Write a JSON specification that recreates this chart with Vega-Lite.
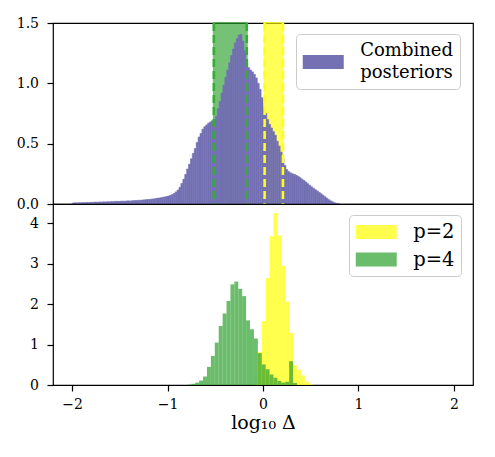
{
  "$schema": "https://vega.github.io/schema/vega-lite/v6.json",
  "padding": {"left": 15, "top": 15, "right": 5, "bottom": 5},
  "spacing": 0,
  "bounds": "flush",
  "config": {
    "font": "DejaVu Serif",
    "view": {"stroke": "black", "strokeWidth": 1.2},
    "axis": {
      "labelFont": "DejaVu Serif", "labelFontSize": 14, "labelColor": "black", "labelLineHeight": 15,
      "tickColor": "black", "tickWidth": 1.2, "tickSize": 6, "labelPadding": 8.5,
      "domain": false, "grid": false,
      "titleFont": "DejaVu Serif", "titleFontSize": 19, "titleColor": "black", "titleFontWeight": "normal"
    },
    "legend": {
      "orient": "none", "title": null,
      "labelFont": "DejaVu Serif", "labelFontSize": 18, "labelColor": "black", "labelLimit": 400,
      "labelOffset": 26.5,
      "symbolType": "M-2,-0.68H2V0.68H-2Z", "symbolSize": 420, "symbolOffset": 10.25, "symbolStrokeWidth": 0,
      "strokeColor": "#cccccc", "cornerRadius": 4, "fillColor": "white", "padding": 6.5, "rowPadding": 8.5
    },
    "style": {"guide-label": {"lineHeight": 22}}
  },
  "resolve": {"scale": {"color": "independent"}, "legend": {"color": "independent"}},
  "datasets": {
    "intervals": [
      {"series": "p=4", "lo": -0.515, "hi": -0.170},
      {"series": "p=2", "lo": 0.017, "hi": 0.209}
    ],
    "combined": [
      {"a": -2.00, "b": -1.98, "v": 0.008}, {"a": -1.98, "b": -1.96, "v": 0.010}, {"a": -1.96, "b": -1.94, "v": 0.009},
      {"a": -1.94, "b": -1.92, "v": 0.011}, {"a": -1.92, "b": -1.90, "v": 0.010}, {"a": -1.90, "b": -1.88, "v": 0.012},
      {"a": -1.88, "b": -1.86, "v": 0.011}, {"a": -1.86, "b": -1.84, "v": 0.013}, {"a": -1.84, "b": -1.82, "v": 0.012},
      {"a": -1.82, "b": -1.80, "v": 0.014}, {"a": -1.80, "b": -1.78, "v": 0.013}, {"a": -1.78, "b": -1.76, "v": 0.015},
      {"a": -1.76, "b": -1.74, "v": 0.016}, {"a": -1.74, "b": -1.72, "v": 0.015}, {"a": -1.72, "b": -1.70, "v": 0.017},
      {"a": -1.70, "b": -1.68, "v": 0.016}, {"a": -1.68, "b": -1.66, "v": 0.018}, {"a": -1.66, "b": -1.64, "v": 0.017},
      {"a": -1.64, "b": -1.62, "v": 0.019}, {"a": -1.62, "b": -1.60, "v": 0.018}, {"a": -1.60, "b": -1.58, "v": 0.020},
      {"a": -1.58, "b": -1.56, "v": 0.019}, {"a": -1.56, "b": -1.54, "v": 0.021}, {"a": -1.54, "b": -1.52, "v": 0.022},
      {"a": -1.52, "b": -1.50, "v": 0.021}, {"a": -1.50, "b": -1.48, "v": 0.023}, {"a": -1.48, "b": -1.46, "v": 0.024},
      {"a": -1.46, "b": -1.44, "v": 0.023}, {"a": -1.44, "b": -1.42, "v": 0.025}, {"a": -1.42, "b": -1.40, "v": 0.026},
      {"a": -1.40, "b": -1.38, "v": 0.025}, {"a": -1.38, "b": -1.36, "v": 0.027}, {"a": -1.36, "b": -1.34, "v": 0.028},
      {"a": -1.34, "b": -1.32, "v": 0.029}, {"a": -1.32, "b": -1.30, "v": 0.030}, {"a": -1.30, "b": -1.28, "v": 0.031},
      {"a": -1.28, "b": -1.26, "v": 0.032}, {"a": -1.26, "b": -1.24, "v": 0.034}, {"a": -1.24, "b": -1.22, "v": 0.035},
      {"a": -1.22, "b": -1.20, "v": 0.037}, {"a": -1.20, "b": -1.18, "v": 0.038}, {"a": -1.18, "b": -1.16, "v": 0.040},
      {"a": -1.16, "b": -1.14, "v": 0.042}, {"a": -1.14, "b": -1.12, "v": 0.044}, {"a": -1.12, "b": -1.10, "v": 0.047},
      {"a": -1.10, "b": -1.08, "v": 0.049}, {"a": -1.08, "b": -1.06, "v": 0.052}, {"a": -1.06, "b": -1.04, "v": 0.055},
      {"a": -1.04, "b": -1.02, "v": 0.058}, {"a": -1.02, "b": -1.00, "v": 0.062}, {"a": -1.00, "b": -0.98, "v": 0.066},
      {"a": -0.98, "b": -0.96, "v": 0.072}, {"a": -0.96, "b": -0.94, "v": 0.078}, {"a": -0.94, "b": -0.92, "v": 0.088},
      {"a": -0.92, "b": -0.90, "v": 0.100}, {"a": -0.90, "b": -0.88, "v": 0.115}, {"a": -0.88, "b": -0.86, "v": 0.138},
      {"a": -0.86, "b": -0.84, "v": 0.170}, {"a": -0.84, "b": -0.82, "v": 0.205}, {"a": -0.82, "b": -0.80, "v": 0.245},
      {"a": -0.80, "b": -0.78, "v": 0.290}, {"a": -0.78, "b": -0.76, "v": 0.330}, {"a": -0.76, "b": -0.74, "v": 0.375},
      {"a": -0.74, "b": -0.72, "v": 0.420}, {"a": -0.72, "b": -0.70, "v": 0.460}, {"a": -0.70, "b": -0.68, "v": 0.510},
      {"a": -0.68, "b": -0.66, "v": 0.555}, {"a": -0.66, "b": -0.64, "v": 0.585}, {"a": -0.64, "b": -0.62, "v": 0.620},
      {"a": -0.62, "b": -0.60, "v": 0.640}, {"a": -0.60, "b": -0.58, "v": 0.655}, {"a": -0.58, "b": -0.56, "v": 0.670},
      {"a": -0.56, "b": -0.54, "v": 0.680}, {"a": -0.54, "b": -0.52, "v": 0.690}, {"a": -0.52, "b": -0.50, "v": 0.700},
      {"a": -0.50, "b": -0.48, "v": 0.725}, {"a": -0.48, "b": -0.46, "v": 0.790}, {"a": -0.46, "b": -0.44, "v": 0.850},
      {"a": -0.44, "b": -0.42, "v": 0.920}, {"a": -0.42, "b": -0.40, "v": 0.985}, {"a": -0.40, "b": -0.38, "v": 1.050},
      {"a": -0.38, "b": -0.36, "v": 1.110}, {"a": -0.36, "b": -0.34, "v": 1.170}, {"a": -0.34, "b": -0.32, "v": 1.230},
      {"a": -0.32, "b": -0.30, "v": 1.285}, {"a": -0.30, "b": -0.28, "v": 1.335}, {"a": -0.28, "b": -0.26, "v": 1.370},
      {"a": -0.26, "b": -0.24, "v": 1.400}, {"a": -0.24, "b": -0.22, "v": 1.405}, {"a": -0.22, "b": -0.20, "v": 1.350},
      {"a": -0.20, "b": -0.18, "v": 1.270}, {"a": -0.18, "b": -0.16, "v": 1.180}, {"a": -0.16, "b": -0.14, "v": 1.130},
      {"a": -0.14, "b": -0.12, "v": 1.110}, {"a": -0.12, "b": -0.10, "v": 1.095}, {"a": -0.10, "b": -0.08, "v": 1.075},
      {"a": -0.08, "b": -0.06, "v": 1.045}, {"a": -0.06, "b": -0.04, "v": 1.000}, {"a": -0.04, "b": -0.02, "v": 0.950},
      {"a": -0.02, "b": 0.00, "v": 0.880}, {"a": 0.00, "b": 0.02, "v": 0.800}, {"a": 0.02, "b": 0.04, "v": 0.750},
      {"a": 0.04, "b": 0.06, "v": 0.700}, {"a": 0.06, "b": 0.08, "v": 0.660}, {"a": 0.08, "b": 0.10, "v": 0.630},
      {"a": 0.10, "b": 0.12, "v": 0.600}, {"a": 0.12, "b": 0.14, "v": 0.570}, {"a": 0.14, "b": 0.16, "v": 0.520},
      {"a": 0.16, "b": 0.18, "v": 0.480}, {"a": 0.18, "b": 0.20, "v": 0.430}, {"a": 0.20, "b": 0.22, "v": 0.380},
      {"a": 0.22, "b": 0.24, "v": 0.320}, {"a": 0.24, "b": 0.26, "v": 0.285}, {"a": 0.26, "b": 0.28, "v": 0.268},
      {"a": 0.28, "b": 0.30, "v": 0.258}, {"a": 0.30, "b": 0.32, "v": 0.250}, {"a": 0.32, "b": 0.34, "v": 0.245},
      {"a": 0.34, "b": 0.36, "v": 0.238}, {"a": 0.36, "b": 0.38, "v": 0.228}, {"a": 0.38, "b": 0.40, "v": 0.218},
      {"a": 0.40, "b": 0.42, "v": 0.205}, {"a": 0.42, "b": 0.44, "v": 0.195}, {"a": 0.44, "b": 0.46, "v": 0.182},
      {"a": 0.46, "b": 0.48, "v": 0.168}, {"a": 0.48, "b": 0.50, "v": 0.155}, {"a": 0.50, "b": 0.52, "v": 0.142},
      {"a": 0.52, "b": 0.54, "v": 0.130}, {"a": 0.54, "b": 0.56, "v": 0.118}, {"a": 0.56, "b": 0.58, "v": 0.108},
      {"a": 0.58, "b": 0.60, "v": 0.096}, {"a": 0.60, "b": 0.62, "v": 0.085}, {"a": 0.62, "b": 0.64, "v": 0.072},
      {"a": 0.64, "b": 0.66, "v": 0.060}, {"a": 0.66, "b": 0.68, "v": 0.048}, {"a": 0.68, "b": 0.70, "v": 0.036},
      {"a": 0.70, "b": 0.72, "v": 0.026}, {"a": 0.72, "b": 0.74, "v": 0.018}, {"a": 0.74, "b": 0.76, "v": 0.010},
      {"a": 0.76, "b": 0.78, "v": 0.006}, {"a": 0.78, "b": 0.80, "v": 0.003}
    ],
    "posteriors": [
      {"series": "p=2", "a": -0.095, "b": -0.054, "v": 0.03},
      {"series": "p=2", "a": -0.054, "b": -0.013, "v": 0.82},
      {"series": "p=2", "a": -0.013, "b": 0.028, "v": 1.58},
      {"series": "p=2", "a": 0.028, "b": 0.069, "v": 2.65},
      {"series": "p=2", "a": 0.069, "b": 0.110, "v": 3.68},
      {"series": "p=2", "a": 0.110, "b": 0.151, "v": 4.26},
      {"series": "p=2", "a": 0.151, "b": 0.192, "v": 3.70},
      {"series": "p=2", "a": 0.192, "b": 0.233, "v": 2.95},
      {"series": "p=2", "a": 0.233, "b": 0.274, "v": 2.06},
      {"series": "p=2", "a": 0.274, "b": 0.315, "v": 1.29},
      {"series": "p=2", "a": 0.315, "b": 0.356, "v": 0.49},
      {"series": "p=2", "a": 0.356, "b": 0.397, "v": 0.38},
      {"series": "p=2", "a": 0.397, "b": 0.438, "v": 0.24},
      {"series": "p=2", "a": 0.438, "b": 0.479, "v": 0.09},
      {"series": "p=2", "a": 0.479, "b": 0.520, "v": 0.03},
      {"series": "p=4", "a": -0.792, "b": -0.751, "v": 0.01},
      {"series": "p=4", "a": -0.751, "b": -0.710, "v": 0.03},
      {"series": "p=4", "a": -0.710, "b": -0.669, "v": 0.06},
      {"series": "p=4", "a": -0.669, "b": -0.628, "v": 0.11},
      {"series": "p=4", "a": -0.628, "b": -0.587, "v": 0.21},
      {"series": "p=4", "a": -0.587, "b": -0.546, "v": 0.45},
      {"series": "p=4", "a": -0.546, "b": -0.505, "v": 0.72},
      {"series": "p=4", "a": -0.505, "b": -0.464, "v": 1.05},
      {"series": "p=4", "a": -0.464, "b": -0.423, "v": 1.46},
      {"series": "p=4", "a": -0.423, "b": -0.382, "v": 1.77},
      {"series": "p=4", "a": -0.382, "b": -0.341, "v": 2.08},
      {"series": "p=4", "a": -0.341, "b": -0.300, "v": 2.49},
      {"series": "p=4", "a": -0.300, "b": -0.259, "v": 2.56},
      {"series": "p=4", "a": -0.259, "b": -0.218, "v": 2.38},
      {"series": "p=4", "a": -0.218, "b": -0.177, "v": 2.20},
      {"series": "p=4", "a": -0.177, "b": -0.136, "v": 1.60},
      {"series": "p=4", "a": -0.136, "b": -0.095, "v": 1.38},
      {"series": "p=4", "a": -0.095, "b": -0.054, "v": 1.15},
      {"series": "p=4", "a": -0.054, "b": -0.013, "v": 0.79},
      {"series": "p=4", "a": -0.013, "b": 0.028, "v": 0.51},
      {"series": "p=4", "a": 0.028, "b": 0.069, "v": 0.39},
      {"series": "p=4", "a": 0.069, "b": 0.110, "v": 0.26},
      {"series": "p=4", "a": 0.110, "b": 0.151, "v": 0.18},
      {"series": "p=4", "a": 0.151, "b": 0.192, "v": 0.10},
      {"series": "p=4", "a": 0.192, "b": 0.233, "v": 0.06},
      {"series": "p=4", "a": 0.233, "b": 0.274, "v": 0.08},
      {"series": "p=4", "a": 0.274, "b": 0.315, "v": 0.59},
      {"series": "p=4", "a": 0.315, "b": 0.356, "v": 0.05}
    ]
  },
  "vconcat": [
    {
      "width": 420,
      "height": 181,
      "layer": [
        {
          "data": {"name": "intervals"},
          "mark": {"type": "rect", "opacity": 0.65, "strokeWidth": 2},
          "encoding": {
            "x": {"field": "lo", "type": "quantitative", "scale": {"domain": [-2.2, 2.2]}, "axis": null},
            "x2": {"field": "hi"},
            "fill": {"field": "series", "type": "nominal", "scale": {"domain": ["p=2", "p=4"], "range": ["#ffff00", "#2ca02c"]}, "legend": null},
            "stroke": {"field": "series", "type": "nominal", "scale": {"domain": ["p=2", "p=4"], "range": ["#ffff00", "#2ca02c"]}, "legend": null}
          }
        },
        {
          "data": {"name": "combined"},
          "mark": {"type": "rect", "stroke": "#7370b3", "strokeWidth": 0.6},
          "encoding": {
            "x": {"field": "a", "type": "quantitative", "scale": {"domain": [-2.2, 2.2]}, "axis": null},
            "x2": {"field": "b"},
            "y": {"field": "v", "type": "quantitative", "scale": {"domain": [0, 1.5]},
                  "axis": {"values": [0, 0.5, 1, 1.5], "format": ".1f", "title": null}},
            "y2": {"datum": 0},
            "color": {"datum": "Combined posteriors", "type": "nominal",
                      "scale": {"range": ["#7370b3"]},
                      "legend": {"legendX": 243, "legendY": 11, "labelBaseline": "middle",
                                 "symbolType": "M-2,0.39H2V1.75H-2Z",
                                 "labelExpr": "split(datum.label, ' ')"}}
          }
        },
        {
          "data": {"name": "intervals"},
          "transform": [{"fold": ["lo", "hi"], "as": ["edge", "at"]}],
          "mark": {"type": "rule", "strokeDash": [8, 4], "strokeWidth": 2.6},
          "encoding": {
            "x": {"field": "at", "type": "quantitative", "scale": {"domain": [-2.2, 2.2]}, "axis": null},
            "stroke": {"field": "series", "type": "nominal", "scale": {"domain": ["p=2", "p=4"], "range": ["#ffff1a", "#35ad35"]}, "legend": null}
          }
        }
      ],
      "resolve": {"scale": {"stroke": "independent"}}
    },
    {
      "width": 420,
      "height": 181,
      "data": {"name": "posteriors"},
      "mark": {"type": "rect", "opacity": 0.7},
      "encoding": {
        "x": {"field": "a", "type": "quantitative", "scale": {"domain": [-2.2, 2.2]},
              "axis": {"values": [-2, -1, 0, 1, 2], "labelExpr": "datum.value < 0 ? '−' + abs(datum.value) : datum.label",
                       "labelPadding": 6, "title": "log₁₀ Δ", "titlePadding": 2}},
        "x2": {"field": "b"},
        "y": {"field": "v", "type": "quantitative", "scale": {"domain": [0, 4.48]},
              "axis": {"values": [0, 1, 2, 3, 4], "format": "d", "title": null}},
        "y2": {"datum": 0},
        "color": {"field": "series", "type": "nominal",
                  "scale": {"domain": ["p=2", "p=4"], "range": ["#ffff00", "#2ca02c"]},
                  "legend": {"legendX": 296, "legendY": 11, "labelFontSize": 19.5, "rowPadding": 7.5}}
      }
    }
  ]
}
